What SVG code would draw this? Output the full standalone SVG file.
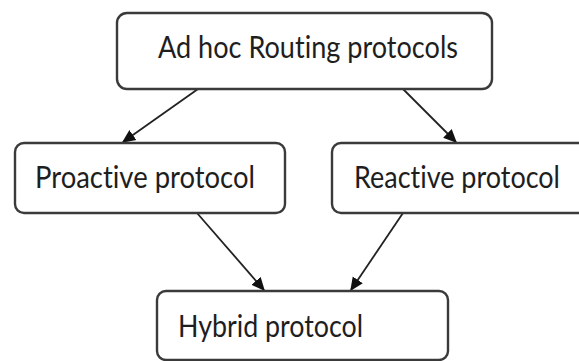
<svg xmlns="http://www.w3.org/2000/svg" width="579" height="361" viewBox="0 0 579 361">
<style>
.box{fill:#ffffff;stroke:#3a3a3a;stroke-width:2.4}
.lbl{font-family:Lato,"Open Sans",sans-serif;font-size:30px;fill:#1e1e1e;font-variant-ligatures:none}
.edge{stroke:#222;stroke-width:1.8;fill:none;marker-end:url(#ah)}
</style>
<defs>
<marker id="ah" viewBox="0 0 10 10" refX="9" refY="5" markerWidth="7.5" markerHeight="7.5" markerUnits="strokeWidth" orient="auto">
<path d="M0,0.5 L10,5 L0,9.5 z" fill="#111"/>
</marker>
</defs>
<rect width="579" height="361" fill="#fff"/>
<g id="connectors">
<line class="edge" x1="198" y1="89" x2="123" y2="142"/>
<line class="edge" x1="403" y1="89" x2="456" y2="142"/>
<line class="edge" x1="197" y1="213" x2="264" y2="290"/>
<line class="edge" x1="403" y1="213" x2="351" y2="290"/>
</g>
<g id="adhoc">
<rect class="box" x="117" y="13" width="375" height="76" rx="10"/>
<text class="lbl" x="158" y="58" textLength="300" lengthAdjust="spacingAndGlyphs">Ad hoc Routing protocols</text>
</g>
<g id="proactive">
<rect class="box" x="15" y="143" width="270" height="70" rx="9"/>
<text class="lbl" x="35" y="188" textLength="220" lengthAdjust="spacingAndGlyphs">Proactive protocol</text>
</g>
<g id="reactive">
<path class="box" d="M579,143 H341 A9,9 0 0 0 332,152 V204 A9,9 0 0 0 341,213 H579"/>
<text class="lbl" x="354" y="188" textLength="206" lengthAdjust="spacingAndGlyphs">Reactive protocol</text>
</g>
<g id="hybrid">
<rect class="box" x="157" y="291" width="291" height="69" rx="9"/>
<text class="lbl" x="178" y="337" textLength="185" lengthAdjust="spacingAndGlyphs">Hybrid protocol</text>
</g>
</svg>
